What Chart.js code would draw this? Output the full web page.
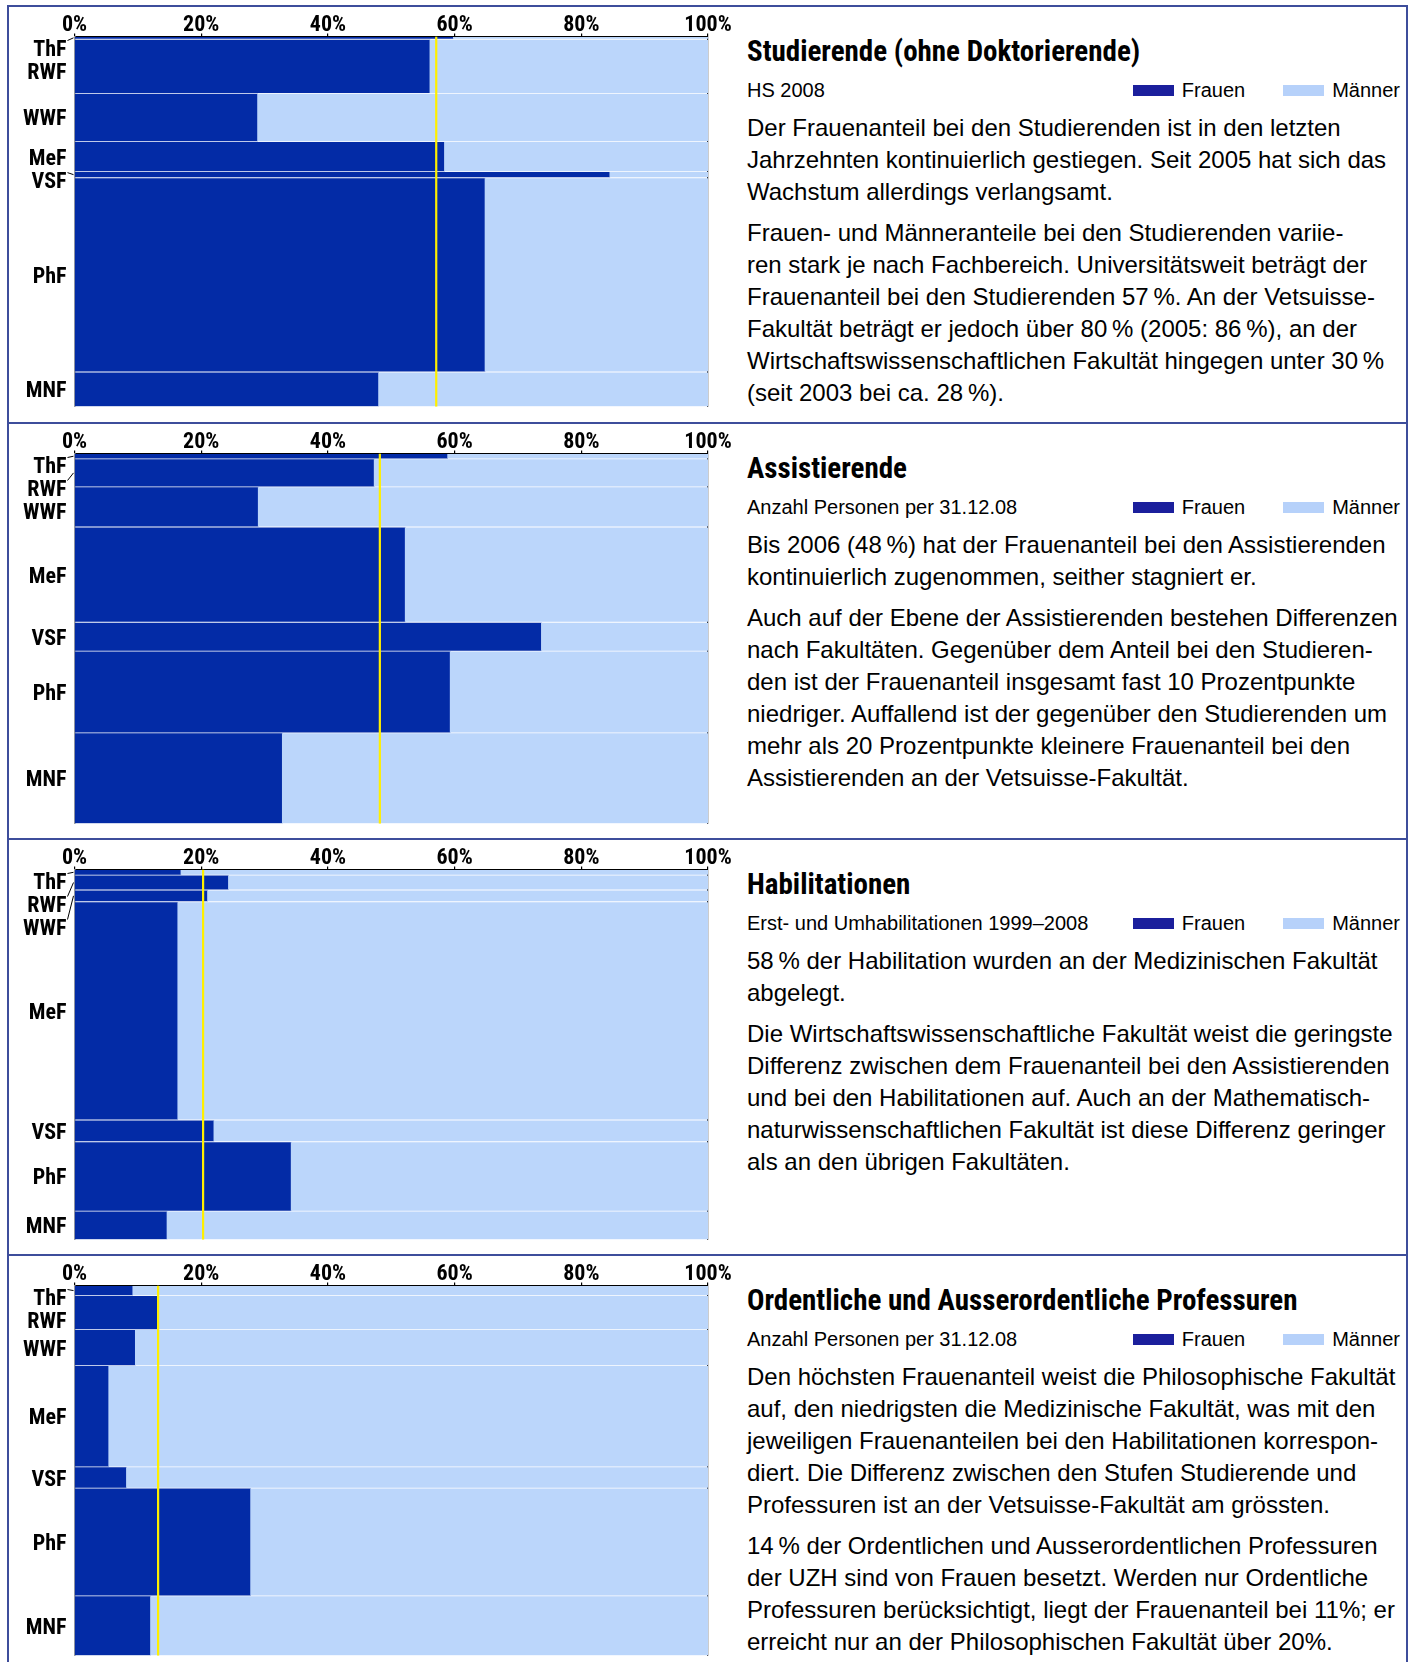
<!DOCTYPE html>
<html lang="de">
<head>
<meta charset="utf-8">
<script src="https://cdn.jsdelivr.net/npm/chart.js@4.4.1/dist/chart.umd.min.js"></script>
<style>
  body { margin: 0; background: #fff; width: 1413px; height: 1662px; position: relative; overflow: hidden;
         font-family: 'Liberation Sans', Arial, Helvetica, sans-serif; color: #000; }
  .panel { position: absolute; left: 7px; width: 1401px; box-sizing: border-box;
           border: 2px solid #3d4d9b; border-bottom: none; }
  .panel canvas { position: absolute; left: 0; top: 0; }
  .txt { position: absolute; left: 738px; top: 0; right: 0; bottom: 0; }
  .title { position: absolute; left: 0; top: 27px; white-space: nowrap;
           font: bold 29px/35px 'Roboto Condensed', 'Liberation Sans Narrow', sans-serif; }
  .sub { position: absolute; left: 0; top: 71px; font-size: 20px; line-height: 24px; white-space: nowrap; }
  .legend { position: absolute; right: 6px; top: 71px; font-size: 20px; line-height: 24px;
            display: flex; align-items: center; white-space: nowrap; }
  .sw { display: inline-block; width: 41px; height: 11px; margin-right: 8px; }
  .gap { display: inline-block; width: 38px; }
  .body { position: absolute; left: 0; top: 105px; font-size: 24px; line-height: 32px; white-space: nowrap; }
  .body p { margin: 0 0 9px 0; }
</style>
</head>
<body>

<div class="panel" style="top:5px;height:417px">
  <canvas id="c1" width="730" height="412"></canvas>
  <div class="txt">
    <div class="title">Studierende (ohne Doktorierende)</div>
    <div class="sub">HS 2008</div>
    <div class="legend"><span class="sw" style="background:#1b1f9c"></span>Frauen<span class="gap"></span><span class="sw" style="background:#b6d1fa"></span>Männer</div>
    <div class="body">
      <p>Der Frauenanteil bei den Studierenden ist in den letzten<br>Jahrzehnten kontinuierlich gestiegen. Seit 2005 hat sich das<br>Wachstum allerdings verlangsamt.</p>
      <p>Frauen- und Männeranteile bei den Studierenden variie-<br>ren stark je nach Fachbereich. Universitätsweit beträgt der<br>Frauenanteil bei den Studierenden 57&thinsp;%. An der Vetsuisse-<br>Fakultät beträgt er jedoch über 80&thinsp;% (2005: 86&thinsp;%), an der<br>Wirtschaftswissenschaftlichen Fakultät hingegen unter 30&thinsp;%<br>(seit 2003 bei ca. 28&thinsp;%).</p>
    </div>
  </div>
</div>

<div class="panel" style="top:422px;height:416px">
  <canvas id="c2" width="730" height="412"></canvas>
  <div class="txt">
    <div class="title">Assistierende</div>
    <div class="sub">Anzahl Personen per 31.12.08</div>
    <div class="legend"><span class="sw" style="background:#1b1f9c"></span>Frauen<span class="gap"></span><span class="sw" style="background:#b6d1fa"></span>Männer</div>
    <div class="body">
      <p>Bis 2006 (48&thinsp;%) hat der Frauenanteil bei den Assistierenden<br>kontinuierlich zugenommen, seither stagniert er.</p>
      <p>Auch auf der Ebene der Assistierenden bestehen Differenzen<br>nach Fakultäten. Gegenüber dem Anteil bei den Studieren-<br>den ist der Frauenanteil insgesamt fast 10 Prozentpunkte<br>niedriger. Auffallend ist der gegenüber den Studierenden um<br>mehr als 20 Prozentpunkte kleinere Frauenanteil bei den<br>Assistierenden an der Vetsuisse-Fakultät.</p>
    </div>
  </div>
</div>

<div class="panel" style="top:838px;height:416px">
  <canvas id="c3" width="730" height="412"></canvas>
  <div class="txt">
    <div class="title">Habilitationen</div>
    <div class="sub">Erst- und Umhabilitationen 1999–2008</div>
    <div class="legend"><span class="sw" style="background:#1b1f9c"></span>Frauen<span class="gap"></span><span class="sw" style="background:#b6d1fa"></span>Männer</div>
    <div class="body">
      <p>58&thinsp;% der Habilitation wurden an der Medizinischen Fakultät<br>abgelegt.</p>
      <p>Die Wirtschaftswissenschaftliche Fakultät weist die geringste<br>Differenz zwischen dem Frauenanteil bei den Assistierenden<br>und bei den Habilitationen auf. Auch an der Mathematisch-<br>naturwissenschaftlichen Fakultät ist diese Differenz geringer<br>als an den übrigen Fakultäten.</p>
    </div>
  </div>
</div>

<div class="panel" style="top:1254px;height:410px">
  <canvas id="c4" width="730" height="412"></canvas>
  <div class="txt">
    <div class="title">Ordentliche und Ausserordentliche Professuren</div>
    <div class="sub">Anzahl Personen per 31.12.08</div>
    <div class="legend"><span class="sw" style="background:#1b1f9c"></span>Frauen<span class="gap"></span><span class="sw" style="background:#b6d1fa"></span>Männer</div>
    <div class="body">
      <p>Den höchsten Frauenanteil weist die Philosophische Fakultät<br>auf, den niedrigsten die Medizinische Fakultät, was mit den<br>jeweiligen Frauenanteilen bei den Habilitationen korrespon-<br>diert. Die Differenz zwischen den Stufen Studierende und<br>Professuren ist an der Vetsuisse-Fakultät am grössten.</p>
      <p>14&thinsp;% der Ordentlichen und Ausserordentlichen Professuren<br>der UZH sind von Frauen besetzt. Werden nur Ordentliche<br>Professuren berücksichtigt, liegt der Frauenanteil bei 11%; er<br>erreicht nur an der Philosophischen Fakultät über 20%.</p>
    </div>
  </div>
</div>

<script>
// Fakultäten (von oben nach unten)
const faculties = ['ThF', 'RWF', 'WWF', 'MeF', 'VSF', 'PhF', 'MNF'];
const xTicks = [0, 20, 40, 60, 80, 100];

// Studierende HS 2008: Anzahl und Frauenanteil in %
const studCount = [163, 3244, 2897, 1795, 367, 11648, 2081];
const studWomen = [59.8, 56.1, 28.9, 58.4, 84.5, 64.8, 48.0];
const studAll = 57.1;

// Assistierende per 31.12.08
const assCount = [32, 164, 236, 560, 170, 480, 534];
const assWomen = [58.9, 47.3, 29.0, 52.2, 73.7, 59.3, 32.8];
const assAll = 48.2;

// Habilitationen 1999-2008
const habCount = [9, 24, 19, 352, 35, 112, 46];
const habWomen = [16.8, 24.3, 21.0, 16.3, 22.0, 34.2, 14.6];
const habAll = 20.3;

// Ordentliche und Ausserordentliche Professuren per 31.12.08
const profCount = [11, 37, 39, 110, 23, 117, 65];
const profWomen = [9.2, 13.1, 9.6, 5.4, 8.2, 27.8, 12.0];
const profAll = 13.2;

const DARK = '#032ba6';
const LIGHT = '#bbd6fb';
const NARROW = "'Roboto Condensed', 'Liberation Sans Narrow', sans-serif";

// faculty names left of the bars, pushed down when bars are too thin
const facultyLabels = {
  id: 'facultyLabels',
  afterDraw(chart) {
    const {ctx, chartArea, scales: {y}} = chart;
    const xr = chartArea.left - 8;
    let prev = -Infinity;
    ctx.save();
    ctx.font = 'bold 22px ' + NARROW;
    ctx.textAlign = 'right';
    ctx.textBaseline = 'alphabetic';
    ctx.fillStyle = '#000';
    ctx.strokeStyle = '#000';
    ctx.lineWidth = 1;
    chart.data.datasets.filter(d => d.type === 'bar').forEach(d => {
      const top = y.getPixelForValue(d.lo);
      const bottom = y.getPixelForValue(d.hi);
      const mid = (top + bottom) / 2;
      const pos = Math.max(mid, chartArea.top + 11, prev + 23);
      prev = pos;
      ctx.fillText(d.label, xr, pos + 8);
      if (pos < top || pos > bottom) {
        ctx.beginPath();
        ctx.moveTo(xr + 1, pos - 7);
        ctx.lineTo(chartArea.left - 1, mid);
        ctx.stroke();
      }
    });
    ctx.restore();
  }
};

function makeChart(id, counts, women, overall) {
  let cum = 0;
  const bars = faculties.map((f, i) => {
    const lo = cum;
    cum += counts[i];
    const mid = (lo + cum) / 2;
    return {
      type: 'bar',
      label: f,
      lo: lo,
      hi: cum,
      data: [{y: mid, x: [0, women[i]]}, {y: mid, x: [women[i], 100]}],
      backgroundColor: [DARK, LIGHT],
      borderWidth: 0,
      grouped: false,
      order: 1,
      barThickness: c => {
        const ys = c.chart.scales.y;
        return Math.max(1, Math.abs(ys.getPixelForValue(c.dataset.hi) - ys.getPixelForValue(c.dataset.lo)) - 1.5);
      }
    };
  });
  const total = cum;

  const avgLine = {
    type: 'line',
    label: 'Total',
    indexAxis: 'y',
    data: [{x: overall, y: 0}, {x: overall, y: total}],
    borderColor: '#fff000',
    borderWidth: 2.2,
    pointRadius: 0,
    order: 0
  };

  new Chart(document.getElementById(id), {
    type: 'bar',
    data: {datasets: [...bars, avgLine]},
    options: {
      indexAxis: 'y',
      responsive: false,
      animation: false,
      devicePixelRatio: 1,
      layout: {padding: {left: 0, right: 31, top: 0, bottom: 12.3}},
      plugins: {legend: {display: false}, tooltip: {enabled: false}},
      scales: {
        x: {
          type: 'linear',
          position: 'top',
          min: 0,
          max: 100,
          z: 1,
          afterBuildTicks: s => { s.ticks = xTicks.map(v => ({value: v})); },
          ticks: {
            callback: v => v + '%',
            color: '#000',
            padding: -5,
            maxRotation: 0,
            font: {family: NARROW, size: 22, weight: 'bold'}
          },
          grid: {
            drawOnChartArea: true,
            tickLength: 3,
            lineWidth: 1.2,
            color: c => (c.tick && c.tick.value === 100) ? '#000' : 'rgba(0,0,0,0)',
            tickColor: '#000'
          },
          border: {display: true, color: '#000', width: 1.5},
          afterFit: s => { s.height = 29.5; }
        },
        y: {
          type: 'linear',
          reverse: true,
          min: 0,
          max: total,
          offset: false,
          z: 1,
          ticks: {display: false},
          grid: {display: false, offset: false},
          border: {display: true, color: '#a0a0a0', width: 1.5},
          afterFit: s => { s.width = 65.5; }
        }
      }
    },
    plugins: [facultyLabels]
  });
}

makeChart('c1', studCount, studWomen, studAll);
makeChart('c2', assCount, assWomen, assAll);
makeChart('c3', habCount, habWomen, habAll);
makeChart('c4', profCount, profWomen, profAll);
</script>
</body>
</html>
